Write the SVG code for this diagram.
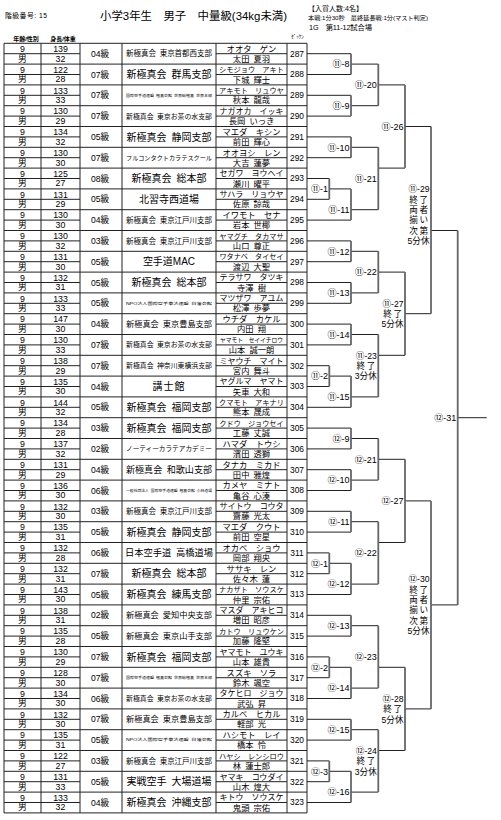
<svg xmlns="http://www.w3.org/2000/svg" xmlns:xlink="http://www.w3.org/1999/xlink" width="501" height="820" viewBox="0 0 501 820">
<style>
text{font-family:"Liberation Sans","Noto Sans CJK JP",sans-serif;fill:#000}
.a{font-size:8.8px;text-anchor:middle}
.g{font-size:8.6px;text-anchor:middle}
.c{text-anchor:middle}
.k{font-size:8.3px;text-anchor:middle}
.k8{font-size:8.1px;text-anchor:middle}
.k9{font-size:7.3px;text-anchor:middle}
.k11{font-size:5.8px;text-anchor:middle}
.j{font-size:8.3px;text-anchor:middle}
.z{font-size:8.4px;text-anchor:middle}
.lb{font-size:9px;text-anchor:end}
.ls{font-size:8.6px;text-anchor:end}
.hd{font-size:6px;font-weight:bold;text-anchor:middle}
.grid{fill:none;stroke:#222;stroke-width:1}
.hl{fill:none;stroke:#222;stroke-width:1}
.vl{fill:none;stroke:#666;stroke-width:1.8}
</style>
<defs>
<path id="rf" class="grid" d="M4 0H307M4 10.4H80M216 10.4H287"/>
</defs>
<rect width="501" height="820" fill="#fff"/>
<g id="header">
<text x="5" y="18" font-size="6.8" textLength="42">階級番号: 15</text>
<text x="100" y="19.5" font-size="11.4" textLength="187">小学3年生&#12288;男子&#12288;中量級(34kg未満)</text>
<text x="308" y="10.5" font-size="7" textLength="55">【入賞人数:4名】</text>
<text x="308" y="19.8" font-size="6.2" textLength="120">本戦:1分30秒&#12288;最終延長戦:1分(マスト判定)</text>
<text x="309" y="29.5" font-size="7.3" textLength="63">1G&#12288;第11-12試合場</text>
<text class="hd" x="26" y="40.5">年齢/性別</text>
<text class="hd" x="63" y="40.5">身長/体重</text>
<text x="297.5" y="37.5" font-size="5" text-anchor="middle">ｾﾞｯｹﾝ</text>
</g>
<g id="table-frame">
<path class="grid" d="M4 43.3V812.9M41 43.3V812.9M80 43.3V812.9M122 43.3V812.9M216 43.3V812.9M287 43.3V812.9M307 43.3V812.9M4 812.9H307"/>
</g>
<g id="e287" transform="translate(0,43.3)"><use href="#rf"/><text class="a" x="22.5" y="8.7">9</text><text class="a" x="60.5" y="8.7">139</text><text class="a" x="22.5" y="18.3">男</text><text class="a" x="60.5" y="18.3">32</text><text class="g" x="100" y="13.6">04級</text><text class="c" x="169" y="13.1" font-size="7.5" textLength="86" lengthAdjust="spacingAndGlyphs">新極真会&#8194;東京首都西支部</text><text class="k" x="251.5" y="8.3">オオタ&#12288;ゲン</text><text class="j" x="251.5" y="18.6">太田&#8194;夏羽</text><text class="z" x="297" y="13.4">287</text></g>
<g id="e288" transform="translate(0,64.1)"><use href="#rf"/><text class="a" x="22.5" y="8.7">9</text><text class="a" x="60.5" y="8.7">122</text><text class="a" x="22.5" y="18.3">男</text><text class="a" x="60.5" y="18.3">28</text><text class="g" x="100" y="13.6">07級</text><text class="c" x="169" y="14" font-size="10">新極真会&#8194;群馬支部</text><text class="k9" x="251.5" y="8.2" textLength="65" lengthAdjust="spacingAndGlyphs">シモジョウ&#12288;アキト</text><text class="j" x="251.5" y="18.6">下城&#8194;輝士</text><text class="z" x="297" y="13.4">288</text></g>
<g id="e289" transform="translate(0,84.9)"><use href="#rf"/><text class="a" x="22.5" y="8.7">9</text><text class="a" x="60.5" y="8.7">133</text><text class="a" x="22.5" y="18.3">男</text><text class="a" x="60.5" y="18.3">33</text><text class="g" x="100" y="13.6">07級</text><text class="c" x="169" y="11.8" font-size="3.6" textLength="86" lengthAdjust="spacingAndGlyphs">国際空手道連盟&#8194;極真会館&#8194;世界総極真&#8194;世界本部</text><text class="k9" x="251.5" y="8.2" textLength="65" lengthAdjust="spacingAndGlyphs">アキモト&#12288;リュウヤ</text><text class="j" x="251.5" y="18.6">秋本&#8194;龍哉</text><text class="z" x="297" y="13.4">289</text></g>
<g id="e290" transform="translate(0,105.7)"><use href="#rf"/><text class="a" x="22.5" y="8.7">9</text><text class="a" x="60.5" y="8.7">130</text><text class="a" x="22.5" y="18.3">男</text><text class="a" x="60.5" y="18.3">29</text><text class="g" x="100" y="13.6">07級</text><text class="c" x="169" y="12.9" font-size="6.9" textLength="86" lengthAdjust="spacingAndGlyphs">新極真会&#8194;東京お茶の水支部</text><text class="k8" x="251.5" y="8.3" textLength="64" lengthAdjust="spacingAndGlyphs">ナガオカ&#12288;イッキ</text><text class="j" x="251.5" y="18.6">長岡&#8194;いっき</text><text class="z" x="297" y="13.4">290</text></g>
<g id="e291" transform="translate(0,126.5)"><use href="#rf"/><text class="a" x="22.5" y="8.7">9</text><text class="a" x="60.5" y="8.7">134</text><text class="a" x="22.5" y="18.3">男</text><text class="a" x="60.5" y="18.3">32</text><text class="g" x="100" y="13.6">05級</text><text class="c" x="169" y="14" font-size="10">新極真会&#8194;静岡支部</text><text class="k" x="251.5" y="8.3">マエダ&#12288;キシン</text><text class="j" x="251.5" y="18.6">前田&#8194;輝心</text><text class="z" x="297" y="13.4">291</text></g>
<g id="e292" transform="translate(0,147.3)"><use href="#rf"/><text class="a" x="22.5" y="8.7">9</text><text class="a" x="60.5" y="8.7">130</text><text class="a" x="22.5" y="18.3">男</text><text class="a" x="60.5" y="18.3">30</text><text class="g" x="100" y="13.6">07級</text><text class="c" x="169" y="12.6" font-size="6.2" textLength="86" lengthAdjust="spacingAndGlyphs">フルコンタクトカラテスクール</text><text class="k" x="251.5" y="8.3">オオヨシ&#12288;レン</text><text class="j" x="251.5" y="18.6">大吉&#8194;蓮夢</text><text class="z" x="297" y="13.4">292</text></g>
<g id="e293" transform="translate(0,168.1)"><use href="#rf"/><text class="a" x="22.5" y="8.7">9</text><text class="a" x="60.5" y="8.7">125</text><text class="a" x="22.5" y="18.3">男</text><text class="a" x="60.5" y="18.3">27</text><text class="g" x="100" y="13.6">08級</text><text class="c" x="169" y="14" font-size="10">新極真会&#8194;総本部</text><text class="k8" x="251.5" y="8.3" textLength="64" lengthAdjust="spacingAndGlyphs">セガワ&#12288;ヨウヘイ</text><text class="j" x="251.5" y="18.6">瀬川&#8194;曜平</text><text class="z" x="297" y="13.4">293</text></g>
<g id="e294" transform="translate(0,188.9)"><use href="#rf"/><text class="a" x="22.5" y="8.7">9</text><text class="a" x="60.5" y="8.7">131</text><text class="a" x="22.5" y="18.3">男</text><text class="a" x="60.5" y="18.3">29</text><text class="g" x="100" y="13.6">05級</text><text class="c" x="169" y="14" font-size="10">北習寺西道場</text><text class="k8" x="251.5" y="8.3" textLength="64" lengthAdjust="spacingAndGlyphs">サハラ&#12288;リョウヤ</text><text class="j" x="251.5" y="18.6">佐原&#8194;諒哉</text><text class="z" x="297" y="13.4">294</text></g>
<g id="e295" transform="translate(0,209.7)"><use href="#rf"/><text class="a" x="22.5" y="8.7">9</text><text class="a" x="60.5" y="8.7">130</text><text class="a" x="22.5" y="18.3">男</text><text class="a" x="60.5" y="18.3">30</text><text class="g" x="100" y="13.6">04級</text><text class="c" x="169" y="13.1" font-size="7.5" textLength="86" lengthAdjust="spacingAndGlyphs">新極真会&#8194;東京江戸川支部</text><text class="k" x="251.5" y="8.3">イワモト&#12288;セナ</text><text class="j" x="251.5" y="18.6">岩本&#8194;世椰</text><text class="z" x="297" y="13.4">295</text></g>
<g id="e296" transform="translate(0,230.5)"><use href="#rf"/><text class="a" x="22.5" y="8.7">9</text><text class="a" x="60.5" y="8.7">130</text><text class="a" x="22.5" y="18.3">男</text><text class="a" x="60.5" y="18.3">32</text><text class="g" x="100" y="13.6">03級</text><text class="c" x="169" y="13.1" font-size="7.5" textLength="86" lengthAdjust="spacingAndGlyphs">新極真会&#8194;東京江戸川支部</text><text class="k9" x="251.5" y="8.2" textLength="64" lengthAdjust="spacingAndGlyphs">ヤマグチ&#12288;タカマサ</text><text class="j" x="251.5" y="18.6">山口&#8194;尊正</text><text class="z" x="297" y="13.4">296</text></g>
<g id="e297" transform="translate(0,251.3)"><use href="#rf"/><text class="a" x="22.5" y="8.7">9</text><text class="a" x="60.5" y="8.7">131</text><text class="a" x="22.5" y="18.3">男</text><text class="a" x="60.5" y="18.3">30</text><text class="g" x="100" y="13.6">05級</text><text class="c" x="169" y="14" font-size="10">空手道MAC</text><text class="k9" x="251.5" y="8.2" textLength="64" lengthAdjust="spacingAndGlyphs">ワタナベ&#12288;タイセイ</text><text class="j" x="251.5" y="18.6">渡辺&#8194;大聖</text><text class="z" x="297" y="13.4">297</text></g>
<g id="e298" transform="translate(0,272.1)"><use href="#rf"/><text class="a" x="22.5" y="8.7">9</text><text class="a" x="60.5" y="8.7">132</text><text class="a" x="22.5" y="18.3">男</text><text class="a" x="60.5" y="18.3">31</text><text class="g" x="100" y="13.6">05級</text><text class="c" x="169" y="14" font-size="10">新極真会&#8194;総本部</text><text class="k8" x="251.5" y="8.3" textLength="64" lengthAdjust="spacingAndGlyphs">テラサワ&#12288;タツキ</text><text class="j" x="251.5" y="18.6">寺澤&#8194;樹</text><text class="z" x="297" y="13.4">298</text></g>
<g id="e299" transform="translate(0,292.9)"><use href="#rf"/><text class="a" x="22.5" y="8.7">9</text><text class="a" x="60.5" y="8.7">133</text><text class="a" x="22.5" y="18.3">男</text><text class="a" x="60.5" y="18.3">33</text><text class="g" x="100" y="13.6">05級</text><text class="c" x="169" y="11.8" font-size="3.8" textLength="86" lengthAdjust="spacingAndGlyphs">NPO法人国際空手拳法連盟&#8194;白蓮会館</text><text class="k8" x="251.5" y="8.3" textLength="64" lengthAdjust="spacingAndGlyphs">マツザワ&#12288;アユム</text><text class="j" x="251.5" y="18.6">松澤&#8194;歩夢</text><text class="z" x="297" y="13.4">299</text></g>
<g id="e300" transform="translate(0,313.7)"><use href="#rf"/><text class="a" x="22.5" y="8.7">9</text><text class="a" x="60.5" y="8.7">147</text><text class="a" x="22.5" y="18.3">男</text><text class="a" x="60.5" y="18.3">30</text><text class="g" x="100" y="13.6">04級</text><text class="c" x="169" y="13.4" font-size="8.2" textLength="86" lengthAdjust="spacingAndGlyphs">新極真会&#8194;東京豊島支部</text><text class="k" x="251.5" y="8.3">ウチダ&#12288;カケル</text><text class="j" x="251.5" y="18.6">内田&#8194;翔</text><text class="z" x="297" y="13.4">300</text></g>
<g id="e301" transform="translate(0,334.5)"><use href="#rf"/><text class="a" x="22.5" y="8.7">9</text><text class="a" x="60.5" y="8.7">130</text><text class="a" x="22.5" y="18.3">男</text><text class="a" x="60.5" y="18.3">33</text><text class="g" x="100" y="13.6">07級</text><text class="c" x="169" y="12.9" font-size="6.9" textLength="86" lengthAdjust="spacingAndGlyphs">新極真会&#8194;東京お茶の水支部</text><text class="k11" x="251.5" y="7.9" textLength="63" lengthAdjust="spacingAndGlyphs">ヤマモト&#12288;セイイチロウ</text><text class="j" x="251.5" y="18.6">山本&#8194;誠一朗</text><text class="z" x="297" y="13.4">301</text></g>
<g id="e302" transform="translate(0,355.3)"><use href="#rf"/><text class="a" x="22.5" y="8.7">9</text><text class="a" x="60.5" y="8.7">138</text><text class="a" x="22.5" y="18.3">男</text><text class="a" x="60.5" y="18.3">29</text><text class="g" x="100" y="13.6">07級</text><text class="c" x="169" y="12.9" font-size="6.9" textLength="86" lengthAdjust="spacingAndGlyphs">新極真会&#8194;神奈川東横浜支部</text><text class="k8" x="251.5" y="8.3" textLength="64" lengthAdjust="spacingAndGlyphs">ミヤウチ&#12288;マイト</text><text class="j" x="251.5" y="18.6">宮内&#8194;舞斗</text><text class="z" x="297" y="13.4">302</text></g>
<g id="e303" transform="translate(0,376.1)"><use href="#rf"/><text class="a" x="22.5" y="8.7">9</text><text class="a" x="60.5" y="8.7">135</text><text class="a" x="22.5" y="18.3">男</text><text class="a" x="60.5" y="18.3">30</text><text class="g" x="100" y="13.6">04級</text><text class="c" x="169" y="14" font-size="10" letter-spacing="1">講士館</text><text class="k8" x="251.5" y="8.3" textLength="64" lengthAdjust="spacingAndGlyphs">ヤグルマ&#12288;ヤマト</text><text class="j" x="251.5" y="18.6">矢車&#8194;大和</text><text class="z" x="297" y="13.4">303</text></g>
<g id="e304" transform="translate(0,396.9)"><use href="#rf"/><text class="a" x="22.5" y="8.7">9</text><text class="a" x="60.5" y="8.7">144</text><text class="a" x="22.5" y="18.3">男</text><text class="a" x="60.5" y="18.3">32</text><text class="g" x="100" y="13.6">05級</text><text class="c" x="169" y="14" font-size="10">新極真会&#8194;福岡支部</text><text class="k9" x="251.5" y="8.2" textLength="65" lengthAdjust="spacingAndGlyphs">クマモト&#12288;アキナリ</text><text class="j" x="251.5" y="18.6">熊本&#8194;晟成</text><text class="z" x="297" y="13.4">304</text></g>
<g id="e305" transform="translate(0,417.7)"><use href="#rf"/><text class="a" x="22.5" y="8.7">9</text><text class="a" x="60.5" y="8.7">134</text><text class="a" x="22.5" y="18.3">男</text><text class="a" x="60.5" y="18.3">28</text><text class="g" x="100" y="13.6">03級</text><text class="c" x="169" y="14" font-size="10">新極真会&#8194;福岡支部</text><text class="k9" x="251.5" y="8.2" textLength="64" lengthAdjust="spacingAndGlyphs">クドウ&#12288;ジョウセイ</text><text class="j" x="251.5" y="18.6">工藤&#8194;丈誠</text><text class="z" x="297" y="13.4">305</text></g>
<g id="e306" transform="translate(0,438.5)"><use href="#rf"/><text class="a" x="22.5" y="8.7">9</text><text class="a" x="60.5" y="8.7">137</text><text class="a" x="22.5" y="18.3">男</text><text class="a" x="60.5" y="18.3">32</text><text class="g" x="100" y="13.6">02級</text><text class="c" x="169" y="12.8" font-size="6.6" textLength="86" lengthAdjust="spacingAndGlyphs">ノーティーカラテアカデミー</text><text class="k" x="251.5" y="8.3">ハマダ&#12288;トウシ</text><text class="j" x="251.5" y="18.6">濱田&#8194;透獅</text><text class="z" x="297" y="13.4">306</text></g>
<g id="e307" transform="translate(0,459.3)"><use href="#rf"/><text class="a" x="22.5" y="8.7">9</text><text class="a" x="60.5" y="8.7">131</text><text class="a" x="22.5" y="18.3">男</text><text class="a" x="60.5" y="18.3">29</text><text class="g" x="100" y="13.6">04級</text><text class="c" x="169" y="13.7" font-size="9.1" textLength="86" lengthAdjust="spacingAndGlyphs">新極真会&#8194;和歌山支部</text><text class="k" x="251.5" y="8.3">タナカ&#12288;ミカド</text><text class="j" x="251.5" y="18.6">田中&#8194;雅煌</text><text class="z" x="297" y="13.4">307</text></g>
<g id="e308" transform="translate(0,480.1)"><use href="#rf"/><text class="a" x="22.5" y="8.7">9</text><text class="a" x="60.5" y="8.7">136</text><text class="a" x="22.5" y="18.3">男</text><text class="a" x="60.5" y="18.3">30</text><text class="g" x="100" y="13.6">06級</text><text class="c" x="169" y="11.8" font-size="3.6" textLength="86" lengthAdjust="spacingAndGlyphs">一般社団法人&#8194;国際空手道連盟&#8194;極真会館&#8194;小林道場</text><text class="k" x="251.5" y="8.3">カメヤ&#12288;ミナト</text><text class="j" x="251.5" y="18.6">亀谷&#8194;心湊</text><text class="z" x="297" y="13.4">308</text></g>
<g id="e309" transform="translate(0,500.9)"><use href="#rf"/><text class="a" x="22.5" y="8.7">9</text><text class="a" x="60.5" y="8.7">132</text><text class="a" x="22.5" y="18.3">男</text><text class="a" x="60.5" y="18.3">30</text><text class="g" x="100" y="13.6">03級</text><text class="c" x="169" y="13.1" font-size="7.5" textLength="86" lengthAdjust="spacingAndGlyphs">新極真会&#8194;東京江戸川支部</text><text class="k8" x="251.5" y="8.3" textLength="64" lengthAdjust="spacingAndGlyphs">サイトウ&#12288;コウタ</text><text class="j" x="251.5" y="18.6">齋藤&#8194;光太</text><text class="z" x="297" y="13.4">309</text></g>
<g id="e310" transform="translate(0,521.7)"><use href="#rf"/><text class="a" x="22.5" y="8.7">9</text><text class="a" x="60.5" y="8.7">135</text><text class="a" x="22.5" y="18.3">男</text><text class="a" x="60.5" y="18.3">31</text><text class="g" x="100" y="13.6">05級</text><text class="c" x="169" y="14" font-size="10">新極真会&#8194;静岡支部</text><text class="k" x="251.5" y="8.3">マエダ&#12288;クウト</text><text class="j" x="251.5" y="18.6">前田&#8194;空星</text><text class="z" x="297" y="13.4">310</text></g>
<g id="e311" transform="translate(0,542.5)"><use href="#rf"/><text class="a" x="22.5" y="8.7">9</text><text class="a" x="60.5" y="8.7">132</text><text class="a" x="22.5" y="18.3">男</text><text class="a" x="60.5" y="18.3">28</text><text class="g" x="100" y="13.6">06級</text><text class="c" x="169" y="13.7" font-size="9.1" textLength="88" lengthAdjust="spacingAndGlyphs">日本空手道&#8194;高橋道場</text><text class="k" x="251.5" y="8.3">オカベ&#12288;ショウ</text><text class="j" x="251.5" y="18.6">岡部&#8194;翔央</text><text class="z" x="297" y="13.4">311</text></g>
<g id="e312" transform="translate(0,563.3)"><use href="#rf"/><text class="a" x="22.5" y="8.7">9</text><text class="a" x="60.5" y="8.7">132</text><text class="a" x="22.5" y="18.3">男</text><text class="a" x="60.5" y="18.3">31</text><text class="g" x="100" y="13.6">07級</text><text class="c" x="169" y="14" font-size="10">新極真会&#8194;総本部</text><text class="k" x="251.5" y="8.3">ササキ&#12288;レン</text><text class="j" x="251.5" y="18.6">佐々木&#8194;蓮</text><text class="z" x="297" y="13.4">312</text></g>
<g id="e313" transform="translate(0,584.1)"><use href="#rf"/><text class="a" x="22.5" y="8.7">9</text><text class="a" x="60.5" y="8.7">143</text><text class="a" x="22.5" y="18.3">男</text><text class="a" x="60.5" y="18.3">30</text><text class="g" x="100" y="13.6">05級</text><text class="c" x="169" y="14" font-size="10">新極真会&#8194;練馬支部</text><text class="k9" x="251.5" y="8.2" textLength="65" lengthAdjust="spacingAndGlyphs">ナカザト&#12288;ソウスケ</text><text class="j" x="251.5" y="18.6">仲里&#8194;宗佑</text><text class="z" x="297" y="13.4">313</text></g>
<g id="e314" transform="translate(0,604.9)"><use href="#rf"/><text class="a" x="22.5" y="8.7">9</text><text class="a" x="60.5" y="8.7">138</text><text class="a" x="22.5" y="18.3">男</text><text class="a" x="60.5" y="18.3">31</text><text class="g" x="100" y="13.6">02級</text><text class="c" x="169" y="13.4" font-size="8.2" textLength="86" lengthAdjust="spacingAndGlyphs">新極真会&#8194;愛知中央支部</text><text class="k8" x="251.5" y="8.3" textLength="64" lengthAdjust="spacingAndGlyphs">マスダ&#12288;アキヒコ</text><text class="j" x="251.5" y="18.6">増田&#8194;昭彦</text><text class="z" x="297" y="13.4">314</text></g>
<g id="e315" transform="translate(0,625.7)"><use href="#rf"/><text class="a" x="22.5" y="8.7">9</text><text class="a" x="60.5" y="8.7">135</text><text class="a" x="22.5" y="18.3">男</text><text class="a" x="60.5" y="18.3">28</text><text class="g" x="100" y="13.6">05級</text><text class="c" x="169" y="13.4" font-size="8.2" textLength="86" lengthAdjust="spacingAndGlyphs">新極真会&#8194;東京山手支部</text><text class="k9" x="251.5" y="8.2" textLength="65" lengthAdjust="spacingAndGlyphs">カトウ&#12288;リュウケン</text><text class="j" x="251.5" y="18.6">加藤&#8194;隆堅</text><text class="z" x="297" y="13.4">315</text></g>
<g id="e316" transform="translate(0,646.5)"><use href="#rf"/><text class="a" x="22.5" y="8.7">9</text><text class="a" x="60.5" y="8.7">130</text><text class="a" x="22.5" y="18.3">男</text><text class="a" x="60.5" y="18.3">29</text><text class="g" x="100" y="13.6">07級</text><text class="c" x="169" y="14" font-size="10">新極真会&#8194;福岡支部</text><text class="k8" x="251.5" y="8.3" textLength="64" lengthAdjust="spacingAndGlyphs">ヤマモト&#12288;ユウキ</text><text class="j" x="251.5" y="18.6">山本&#8194;雄貴</text><text class="z" x="297" y="13.4">316</text></g>
<g id="e317" transform="translate(0,667.3)"><use href="#rf"/><text class="a" x="22.5" y="8.7">9</text><text class="a" x="60.5" y="8.7">128</text><text class="a" x="22.5" y="18.3">男</text><text class="a" x="60.5" y="18.3">30</text><text class="g" x="100" y="13.6">07級</text><text class="c" x="169" y="11.8" font-size="3.6" textLength="86" lengthAdjust="spacingAndGlyphs">国際空手道連盟&#8194;極真会館&#8194;世界総極真&#8194;世界本部</text><text class="k" x="251.5" y="8.3">スズキ&#12288;ソラ</text><text class="j" x="251.5" y="18.6">鈴木&#8194;颯空</text><text class="z" x="297" y="13.4">317</text></g>
<g id="e318" transform="translate(0,688.1)"><use href="#rf"/><text class="a" x="22.5" y="8.7">9</text><text class="a" x="60.5" y="8.7">134</text><text class="a" x="22.5" y="18.3">男</text><text class="a" x="60.5" y="18.3">30</text><text class="g" x="100" y="13.6">06級</text><text class="c" x="169" y="12.9" font-size="6.9" textLength="86" lengthAdjust="spacingAndGlyphs">新極真会&#8194;東京お茶の水支部</text><text class="k8" x="251.5" y="8.3" textLength="64" lengthAdjust="spacingAndGlyphs">タケヒロ&#12288;ジョウ</text><text class="j" x="251.5" y="18.6">武弘&#8194;昇</text><text class="z" x="297" y="13.4">318</text></g>
<g id="e319" transform="translate(0,708.9)"><use href="#rf"/><text class="a" x="22.5" y="8.7">9</text><text class="a" x="60.5" y="8.7">132</text><text class="a" x="22.5" y="18.3">男</text><text class="a" x="60.5" y="18.3">30</text><text class="g" x="100" y="13.6">07級</text><text class="c" x="169" y="13.4" font-size="8.2" textLength="86" lengthAdjust="spacingAndGlyphs">新極真会&#8194;東京豊島支部</text><text class="k" x="251.5" y="8.3">カルベ&#12288;ヒカル</text><text class="j" x="251.5" y="18.6">軽部&#8194;光</text><text class="z" x="297" y="13.4">319</text></g>
<g id="e320" transform="translate(0,729.7)"><use href="#rf"/><text class="a" x="22.5" y="8.7">9</text><text class="a" x="60.5" y="8.7">135</text><text class="a" x="22.5" y="18.3">男</text><text class="a" x="60.5" y="18.3">31</text><text class="g" x="100" y="13.6">05級</text><text class="c" x="169" y="11.8" font-size="3.8" textLength="86" lengthAdjust="spacingAndGlyphs">NPO法人国際空手拳法連盟&#8194;白蓮会館</text><text class="k" x="251.5" y="8.3">ハシモト&#12288;レイ</text><text class="j" x="251.5" y="18.6">橋本&#8194;怜</text><text class="z" x="297" y="13.4">320</text></g>
<g id="e321" transform="translate(0,750.5)"><use href="#rf"/><text class="a" x="22.5" y="8.7">9</text><text class="a" x="60.5" y="8.7">122</text><text class="a" x="22.5" y="18.3">男</text><text class="a" x="60.5" y="18.3">27</text><text class="g" x="100" y="13.6">03級</text><text class="c" x="169" y="13.1" font-size="7.5" textLength="86" lengthAdjust="spacingAndGlyphs">新極真会&#8194;東京江戸川支部</text><text class="k9" x="251.5" y="8.2" textLength="65" lengthAdjust="spacingAndGlyphs">ハヤシ&#12288;レンシロウ</text><text class="j" x="251.5" y="18.6">林&#8194;蓮士郎</text><text class="z" x="297" y="13.4">321</text></g>
<g id="e322" transform="translate(0,771.3)"><use href="#rf"/><text class="a" x="22.5" y="8.7">9</text><text class="a" x="60.5" y="8.7">131</text><text class="a" x="22.5" y="18.3">男</text><text class="a" x="60.5" y="18.3">33</text><text class="g" x="100" y="13.6">05級</text><text class="c" x="169" y="14" font-size="10">実戦空手&#8194;大場道場</text><text class="k8" x="251.5" y="8.3" textLength="64" lengthAdjust="spacingAndGlyphs">ヤマキ&#12288;コウダイ</text><text class="j" x="251.5" y="18.6">山木&#8194;煌大</text><text class="z" x="297" y="13.4">322</text></g>
<g id="e323" transform="translate(0,792.1)"><use href="#rf"/><text class="a" x="22.5" y="8.7">9</text><text class="a" x="60.5" y="8.7">133</text><text class="a" x="22.5" y="18.3">男</text><text class="a" x="60.5" y="18.3">32</text><text class="g" x="100" y="13.6">04級</text><text class="c" x="169" y="14" font-size="10">新極真会&#8194;沖縄支部</text><text class="k8" x="251.5" y="8.3" textLength="64" lengthAdjust="spacingAndGlyphs">キトウ&#12288;ソウスケ</text><text class="j" x="251.5" y="18.6">鬼頭&#8194;宗佑</text><text class="z" x="297" y="13.4">323</text></g>
<g id="connectors">
<path class="hl" d="M307 53.7H351M307 74.5H351M307 95.3H351M307 116.1H351M307 136.9H351M307 157.7H351M307 220.1H351M307 240.9H351M307 261.7H351M307 282.5H351M307 303.3H351M307 324.1H351M307 344.9H351M307 407.3H351M307 428.1H351M307 448.9H351M307 469.7H351M307 490.5H351M307 511.3H351M307 532.1H351M307 594.5H351M307 615.3H351M307 636.1H351M307 698.5H351M307 719.3H351M307 740.1H351M307 802.5H351
M307 178.5H329.3M307 199.3H329.3M307 365.7H329.3M307 386.5H329.3M307 552.9H329.3M307 573.7H329.3M307 656.9H329.3M307 677.7H329.3M307 760.9H329.3M307 781.7H329.3
M329.3 188.9H351M329.3 376.1H351M329.3 563.3H351M329.3 667.3H351M329.3 771.3H351
M351 64.1H378.3M351 105.7H378.3M351 147.3H378.3M351 209.7H378.3M351 251.3H378.3M351 292.9H378.3M351 334.5H378.3M351 396.9H378.3M351 438.5H378.3M351 480.1H378.3M351 521.7H378.3M351 584.1H378.3M351 625.7H378.3M351 688.1H378.3M351 729.7H378.3M351 792.1H378.3
M378.3 84.9H405M378.3 168.1H405M378.3 272.1H405M378.3 355.3H405M378.3 459.3H405M378.3 542.5H405M378.3 667.3H405M378.3 750.5H405
M405 126.5H431M405 313.7H431M405 500.9H431M405 708.9H431
M431 230.5H457.7M431 604.9H457.7
M457.7 417.7H486.7"/>
<path class="vl" d="M329.3 178.5V199.3M329.3 365.7V386.5M329.3 552.9V573.7M329.3 656.9V677.7M329.3 760.9V781.7
M351 53.7V74.5M351 95.3V116.1M351 136.9V157.7M351 188.9V220.1M351 240.9V261.7M351 282.5V303.3M351 324.1V344.9M351 376.1V407.3M351 428.1V448.9M351 469.7V490.5M351 511.3V532.1M351 563.3V594.5M351 615.3V636.1M351 667.3V698.5M351 719.3V740.1M351 771.3V802.5
M378.3 64.1V105.7M378.3 147.3V209.7M378.3 251.3V292.9M378.3 334.5V396.9M378.3 438.5V480.1M378.3 521.7V584.1M378.3 625.7V688.1M378.3 729.7V792.1
M405 84.9V168.1M405 272.1V355.3M405 459.3V542.5M405 667.3V750.5
M431 126.5V313.7M431 500.9V708.9
M457.7 230.5V604.9"/>
</g>
<g id="m11-1"><text class="lb" x="328" y="192.2">⑪-1</text></g>
<g id="m11-2"><text class="lb" x="328" y="379.4">⑪-2</text></g>
<g id="m12-1"><text class="lb" x="328" y="566.6">⑫-1</text></g>
<g id="m12-2"><text class="lb" x="328" y="670.6">⑫-2</text></g>
<g id="m12-3"><text class="lb" x="328" y="774.6">⑫-3</text></g>
<g id="m11-8"><text class="lb" x="349.5" y="67.4">⑪-8</text></g>
<g id="m11-9"><text class="lb" x="349.5" y="109">⑪-9</text></g>
<g id="m11-10"><text class="lb" x="349.5" y="150.6">⑪-10</text></g>
<g id="m11-11"><text class="lb" x="349.5" y="213">⑪-11</text></g>
<g id="m11-12"><text class="lb" x="349.5" y="254.6">⑪-12</text></g>
<g id="m11-13"><text class="lb" x="349.5" y="296.2">⑪-13</text></g>
<g id="m11-14"><text class="lb" x="349.5" y="337.8">⑪-14</text></g>
<g id="m11-15"><text class="lb" x="349.5" y="400.2">⑪-15</text></g>
<g id="m12-9"><text class="lb" x="349.5" y="441.8">⑫-9</text></g>
<g id="m12-10"><text class="lb" x="349.5" y="483.4">⑫-10</text></g>
<g id="m12-11"><text class="lb" x="349.5" y="525">⑫-11</text></g>
<g id="m12-12"><text class="lb" x="349.5" y="587.4">⑫-12</text></g>
<g id="m12-13"><text class="lb" x="349.5" y="629">⑫-13</text></g>
<g id="m12-14"><text class="lb" x="349.5" y="691.4">⑫-14</text></g>
<g id="m12-15"><text class="lb" x="349.5" y="733">⑫-15</text></g>
<g id="m12-16"><text class="lb" x="349.5" y="795.4">⑫-16</text></g>
<g id="m11-20"><text class="lb" x="376.8" y="88.2">⑪-20</text></g>
<g id="m11-21"><text class="lb" x="376.8" y="181.8">⑪-21</text></g>
<g id="m11-22"><text class="lb" x="376.8" y="275.4">⑪-22</text></g>
<g id="m11-23"><text class="ls" x="376.8" y="358.6">⑪-23</text><text class="ls" x="376.8" y="369" letter-spacing="1.5">終了</text><text class="ls" x="376.8" y="379.4">3分休</text></g>
<g id="m12-21"><text class="lb" x="376.8" y="462.6">⑫-21</text></g>
<g id="m12-22"><text class="lb" x="376.8" y="556.2">⑫-22</text></g>
<g id="m12-23"><text class="lb" x="376.8" y="660.2">⑫-23</text></g>
<g id="m12-24"><text class="ls" x="376.8" y="753.8">⑫-24</text><text class="ls" x="376.8" y="764.2" letter-spacing="1.5">終了</text><text class="ls" x="376.8" y="774.6">3分休</text></g>
<g id="m11-26"><text class="lb" x="403.5" y="129.8">⑪-26</text></g>
<g id="m11-27"><text class="ls" x="403.5" y="306.6">⑪-27</text><text class="ls" x="403.5" y="317" letter-spacing="1.5">終了</text><text class="ls" x="403.5" y="327.4">5分休</text></g>
<g id="m12-27"><text class="lb" x="403.5" y="504.2">⑫-27</text></g>
<g id="m12-28"><text class="ls" x="403.5" y="701.8">⑫-28</text><text class="ls" x="403.5" y="712.2" letter-spacing="1.5">終了</text><text class="ls" x="403.5" y="722.6">5分休</text></g>
<g id="m11-29"><text class="ls" x="429.5" y="192.2">⑪-29</text><text class="ls" x="429.5" y="202.6" letter-spacing="1.5">終了</text><text class="ls" x="429.5" y="213" letter-spacing="1.5">両者</text><text class="ls" x="429.5" y="223.4" letter-spacing="1.5">揃い</text><text class="ls" x="429.5" y="233.8" letter-spacing="1.5">次第</text><text class="ls" x="429.5" y="244.2">5分休</text></g>
<g id="m12-30"><text class="ls" x="429.5" y="582.2">⑫-30</text><text class="ls" x="429.5" y="592.6" letter-spacing="1.5">終了</text><text class="ls" x="429.5" y="603" letter-spacing="1.5">両者</text><text class="ls" x="429.5" y="613.4" letter-spacing="1.5">揃い</text><text class="ls" x="429.5" y="623.8" letter-spacing="1.5">次第</text><text class="ls" x="429.5" y="634.2">5分休</text></g>
<g id="m12-31"><text class="lb" x="456.2" y="421">⑫-31</text></g>
</svg>
